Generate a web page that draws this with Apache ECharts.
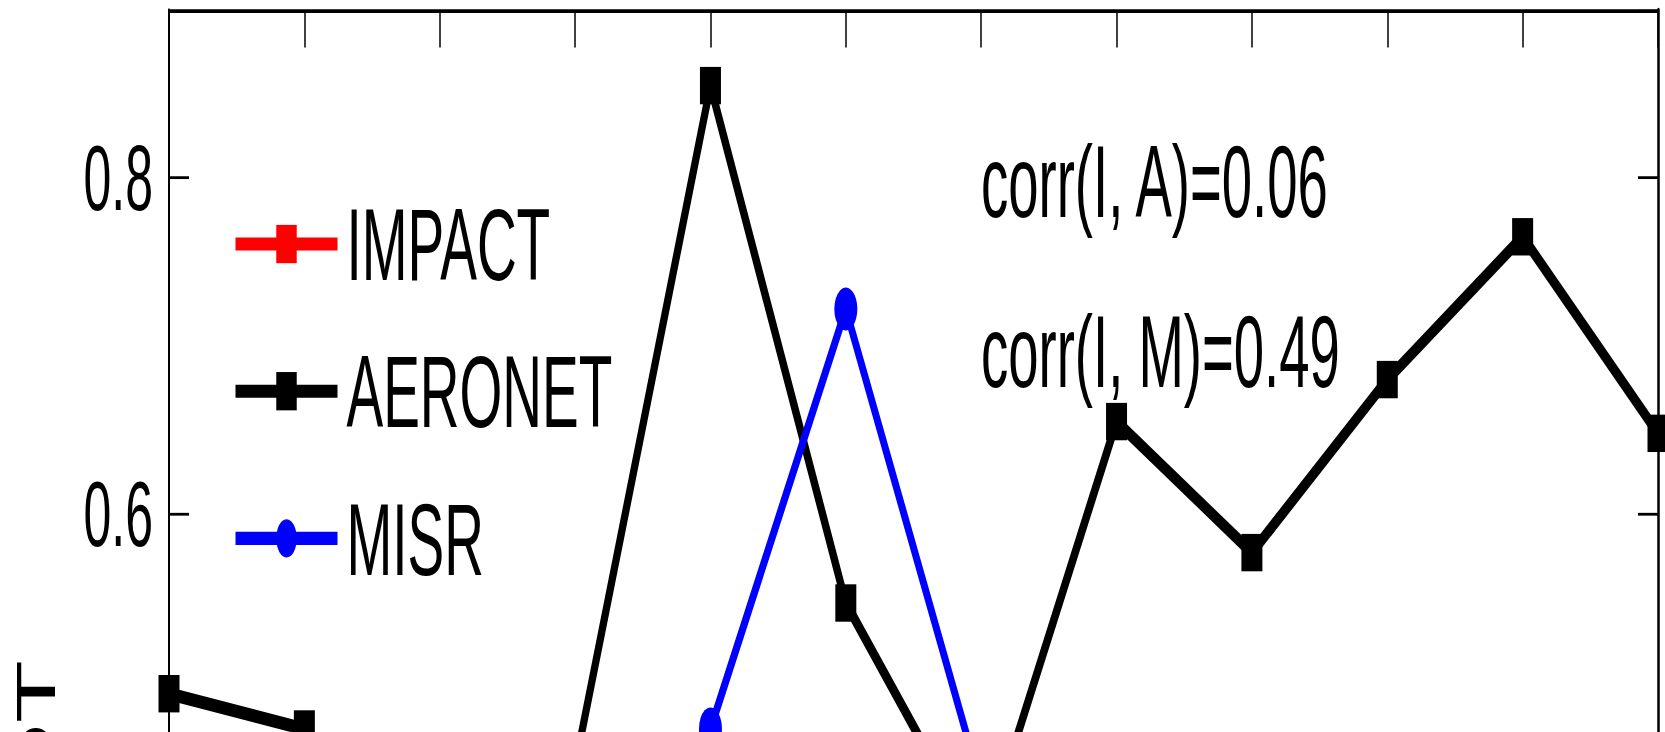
<!DOCTYPE html>
<html>
<head>
<meta charset="utf-8">
<title>AOT monthly comparison</title>
<script src="https://cdn.jsdelivr.net/npm/echarts@6/dist/echarts.min.js"></script>
<style>
  html, body { margin: 0; padding: 0; width: 100%; height: 100%; overflow: hidden; background: #ffffff; }
  /* the figure is drawn in a short frame and stretched vertically */
  #chart { width: 1665px; height: 830px; transform: scaleY(1.87); transform-origin: 0 0; }
</style>
</head>
<body>
<div id="chart"></div>
<script>
// month index along the x axis
const months = [1, 2, 3, 4, 5, 6, 7, 8, 9, 10, 11, 12];

// monthly mean aerosol optical thickness
const impact  = [0.36, 0.38, 0.41, 0.44, 0.45, 0.43, 0.40, 0.37, 0.34, 0.33, 0.34, 0.35];
const aeronet = [0.493, 0.472, 0.38, 0.450, 0.855, 0.547, 0.400, 0.655, 0.577, 0.680, 0.765, 0.648];
const misr    = [0.30, 0.31, 0.34, 0.40, 0.472, 0.722, 0.438, 0.36, 0.33, 0.30, 0.29, 0.28];

const seriesNames = ['IMPACT', 'AERONET', 'MISR'];
const corrLines = ['corr(I, A)=0.06', 'corr(I, M)=0.49'];

const yMin = 0, yMax = 0.9, yStep = 0.2;
const xMin = 1, xMax = 12, xStep = 1;

const FONT = "'Liberation Sans', Arial, Helvetica, sans-serif";

const pairs = arr => arr.map((v, i) => [months[i], v]);

const chart = echarts.init(document.getElementById('chart'), null, { renderer: 'svg' });

const tickCommon = { show: true, inside: true, length: 20, lineStyle: { color: '#000', width: 1.5 } };

chart.setOption({
  animation: false,
  backgroundColor: '#ffffff',
  grid: { left: 169, top: 5.35, width: 1489, height: 808.5, containLabel: false, outerBoundsMode: 'none' },
  legend: {
    data: seriesNames,
    orient: 'vertical',
    left: 232,
    top: 103,
    padding: 0,
    itemWidth: 102,
    itemHeight: 25.6,
    itemGap: 23.7,
    selectedMode: false,
    lineStyle: { width: 7 },
    textStyle: { fontSize: 55, fontFamily: FONT, color: '#000', padding: [0, 0, 0, 4] }
  },
  xAxis: [
    {
      type: 'value', position: 'bottom', min: xMin, max: xMax, interval: xStep,
      axisLine: { show: true, onZero: false, lineStyle: { color: '#000', width: 2 } },
      axisTick: tickCommon,
      axisLabel: { fontSize: 50, fontFamily: FONT, color: '#000', margin: 16 },
      splitLine: { show: false }
    },
    {
      type: 'value', position: 'top', min: xMin, max: xMax, interval: xStep,
      axisLine: { show: true, onZero: false, lineStyle: { color: '#000', width: 2 } },
      axisTick: tickCommon,
      axisLabel: { show: false },
      splitLine: { show: false }
    }
  ],
  yAxis: [
    {
      type: 'value', position: 'left', min: yMin, max: yMax, interval: yStep,
      name: 'AOT', nameLocation: 'middle', nameGap: 106,
      nameTextStyle: { fontSize: 55, fontFamily: FONT, color: '#000' },
      axisLine: { show: true, onZero: false, lineStyle: { color: '#000', width: 2 } },
      axisTick: tickCommon,
      axisLabel: { fontSize: 50, fontFamily: FONT, color: '#000', margin: 16, showMaxLabel: false },
      splitLine: { show: false }
    },
    {
      type: 'value', position: 'right', min: yMin, max: yMax, interval: yStep,
      axisLine: { show: true, onZero: false, lineStyle: { color: '#000', width: 2.5 } },
      axisTick: tickCommon,
      axisLabel: { show: false },
      splitLine: { show: false }
    }
  ],
  graphic: corrLines.map((t, i) => ({
    type: 'text',
    x: 981,
    y: [97.3, 187.7][i],
    style: { text: t, fontSize: 54.5, fontFamily: FONT, fill: '#000', align: 'left', verticalAlign: 'middle' }
  })),
  series: [
    {
      name: 'IMPACT', type: 'line', data: pairs(impact),
      symbol: 'rect', symbolSize: [21, 20], showAllSymbol: true, clip: false,
      lineStyle: { color: '#ff0000', width: 7 }, itemStyle: { color: '#ff0000' },
      emphasis: { disabled: true }
    },
    {
      name: 'AERONET', type: 'line', data: pairs(aeronet),
      symbol: 'rect', symbolSize: [21, 20], showAllSymbol: true, clip: false,
      lineStyle: { color: '#000000', width: 7 }, itemStyle: { color: '#000000' },
      emphasis: { disabled: true }
    },
    {
      name: 'MISR', type: 'line', data: pairs(misr),
      symbol: 'circle', symbolSize: 23, showAllSymbol: true, clip: false,
      lineStyle: { color: '#0000ff', width: 6.5 }, itemStyle: { color: '#0000ff' },
      emphasis: { disabled: true }
    }
  ]
});
</script>
</body>
</html>
